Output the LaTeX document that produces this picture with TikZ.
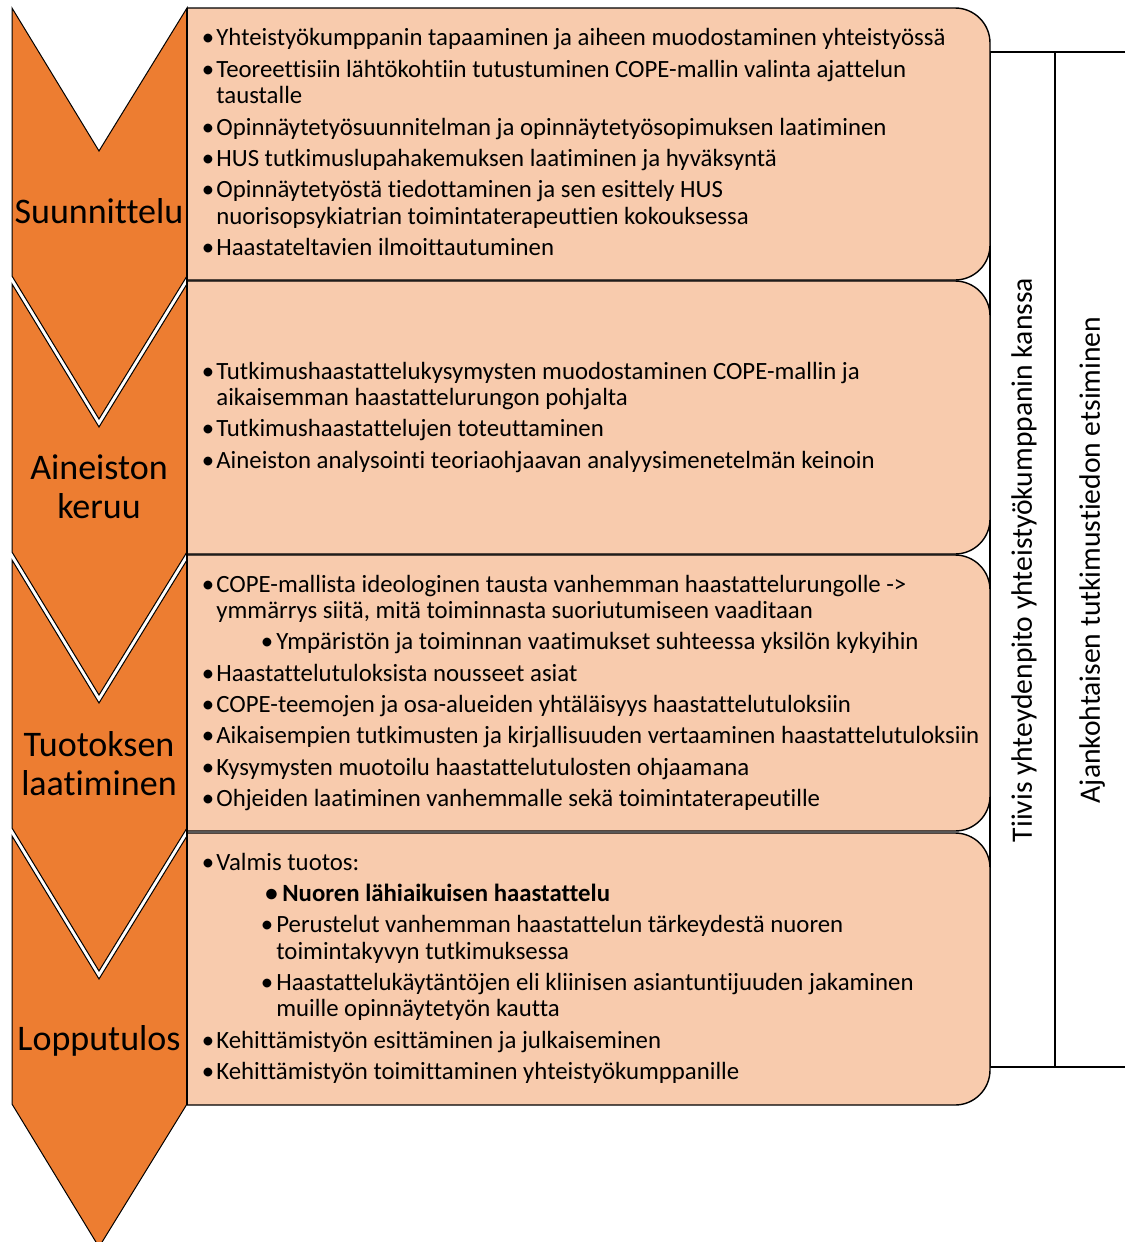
\documentclass[tikz,border=0pt]{standalone}
\usepackage{fontspec}
\setmainfont[Ligatures={NoCommon,TeX}]{Carlito}
\usepackage{tikz}
\usetikzlibrary{calc}
\definecolor{oranssi}{HTML}{ED7D31}
\definecolor{persikka}{HTML}{F8CBAD}
\tikzstyle{nuoli} = [draw=black, line width=0.5pt, fill=oranssi, line join=miter]
\tikzstyle{laatikko} = [draw=black, line width=0.7pt, fill=persikka, rounded corners=17.5pt]
\tikzstyle{kehys} = [draw=black, line width=0.6pt]
\tikzstyle{vaihe} = [inner sep=0, align=center, font=\fontsize{18}{19.5}\selectfont]
\tikzstyle{lista} = [inner sep=0, anchor=base west, font=\fontsize{12.4}{13.25}\selectfont]
\tikzstyle{sivu} = [inner sep=0, rotate=90, font=\fontsize{14.8}{16}\selectfont]
\newcommand{\pallo}{\makebox[4.5pt][l]{\hspace{-2.8pt}\textbullet}}
\newcommand{\ala}{\hspace{25pt}\makebox[5pt][l]{\hspace{-2.8pt}\textbullet}}
\newcommand{\jatko}{\hspace{30pt}}

\begin{document}
\begin{tikzpicture}[x=0.5pt, y=-0.5pt]
    \useasboundingbox (0,0) rectangle (1125,1242);

    % kehys oikealla
    \draw[kehys] (1125,52) -- (990,52) -- (990,1067) -- (1125,1067);
    \draw[kehys] (1055,52) -- (1055,1067);
    \node[sivu] (yhteys) at (1024,560) {Tiivis yhteydenpito yhteistyökumppanin kanssa};
    \node[sivu] (tieto) at (1092,560) {Ajankohtaisen tutkimustiedon etsiminen};

    % laatikot
    \filldraw[laatikko] (187,8) -- (990,8) -- (990,280) -- (187,280);
    \filldraw[laatikko] (187,281) -- (990,281) -- (990,554) -- (187,554);
    \filldraw[laatikko] (187,555) -- (990,555) -- (990,831) -- (187,831);
    \filldraw[laatikko] (187,833) -- (990,833) -- (990,1105) -- (187,1105);

    % nuolet
    \foreach \t/\b in {8/276, 284/552, 560/828, 836/1104}
        \draw[nuoli] (12,\t) -- (99,\t+143) -- (187,\t) -- (187,\b) -- (99,\b+143) -- (12,\b) -- cycle;
    \draw[kehys, line width=0.9pt] (187,8) -- (187,1105);

    \node[vaihe] (suunnittelu) at (99,211) {Suunnittelu};
    \node[vaihe] (keruu) at (99,487) {Aineiston\\keruu};
    \node[vaihe] (tuotos) at (99,764) {Tuotoksen\\laatiminen};
    \node[vaihe] (tulos) at (99,1041) {Lopputulos};

    \node[lista] (lista1) at (207,46) {\begin{tabular}[t]{@{}l@{}l@{}}
        \pallo & Yhteistyökumppanin tapaaminen ja aiheen muodostaminen yhteistyössä\\[2.4pt]
        \pallo & Teoreettisiin lähtökohtiin tutustuminen COPE-mallin valinta ajattelun\\
               & taustalle\\[2.4pt]
        \pallo & Opinnäytetyösuunnitelman ja opinnäytetyösopimuksen laatiminen\\[2.4pt]
        \pallo & HUS tutkimuslupahakemuksen laatiminen ja hyväksyntä\\[2.4pt]
        \pallo & Opinnäytetyöstä tiedottaminen ja sen esittely HUS\\
               & nuorisopsykiatrian toimintaterapeuttien kokouksessa\\[2.4pt]
        \pallo & Haastateltavien ilmoittautuminen
    \end{tabular}};

    \node[lista] (lista2) at (207,379) {\begin{tabular}[t]{@{}l@{}l@{}}
        \pallo & Tutkimushaastattelukysymysten muodostaminen COPE-mallin ja\\
               & aikaisemman haastattelurungon pohjalta\\[2.4pt]
        \pallo & Tutkimushaastattelujen toteuttaminen\\[2.4pt]
        \pallo & Aineiston analysointi teoriaohjaavan analyysimenetelmän keinoin
    \end{tabular}};

    \node[lista] (lista3) at (207,592) {\begin{tabular}[t]{@{}l@{}l@{}}
        \pallo & COPE-mallista ideologinen tausta vanhemman haastattelurungolle ->\\
               & ymmärrys siitä, mitä toiminnasta suoriutumiseen vaaditaan\\[2.4pt]
               & \ala Ympäristön ja toiminnan vaatimukset suhteessa yksilön kykyihin\\[2.4pt]
        \pallo & Haastattelutuloksista nousseet asiat\\[2.4pt]
        \pallo & COPE-teemojen ja osa-alueiden yhtäläisyys haastattelutuloksiin\\[2.4pt]
        \pallo & Aikaisempien tutkimusten ja kirjallisuuden vertaaminen haastattelutuloksiin\\[2.4pt]
        \pallo & Kysymysten muotoilu haastattelutulosten ohjaamana\\[2.4pt]
        \pallo & Ohjeiden laatiminen vanhemmalle sekä toimintaterapeutille
    \end{tabular}};

    \node[lista] (lista4) at (207,870) {\begin{tabular}[t]{@{}l@{}l@{}}
        \pallo & Valmis tuotos:\\[2.4pt]
               & \hspace{24.5pt}\makebox[8.5pt][l]{\textbf{\textbullet}}\textbf{Nuoren lähiaikuisen haastattelu}\\[2.4pt]
               & \ala Perustelut vanhemman haastattelun tärkeydestä nuoren\\
               & \jatko toimintakyvyn tutkimuksessa\\[2.4pt]
               & \ala Haastattelukäytäntöjen eli kliinisen asiantuntijuuden jakaminen\\
               & \jatko muille opinnäytetyön kautta\\[2.4pt]
        \pallo & Kehittämistyön esittäminen ja julkaiseminen\\[2.4pt]
        \pallo & Kehittämistyön toimittaminen yhteistyökumppanille
    \end{tabular}};
\end{tikzpicture}
\end{document}
